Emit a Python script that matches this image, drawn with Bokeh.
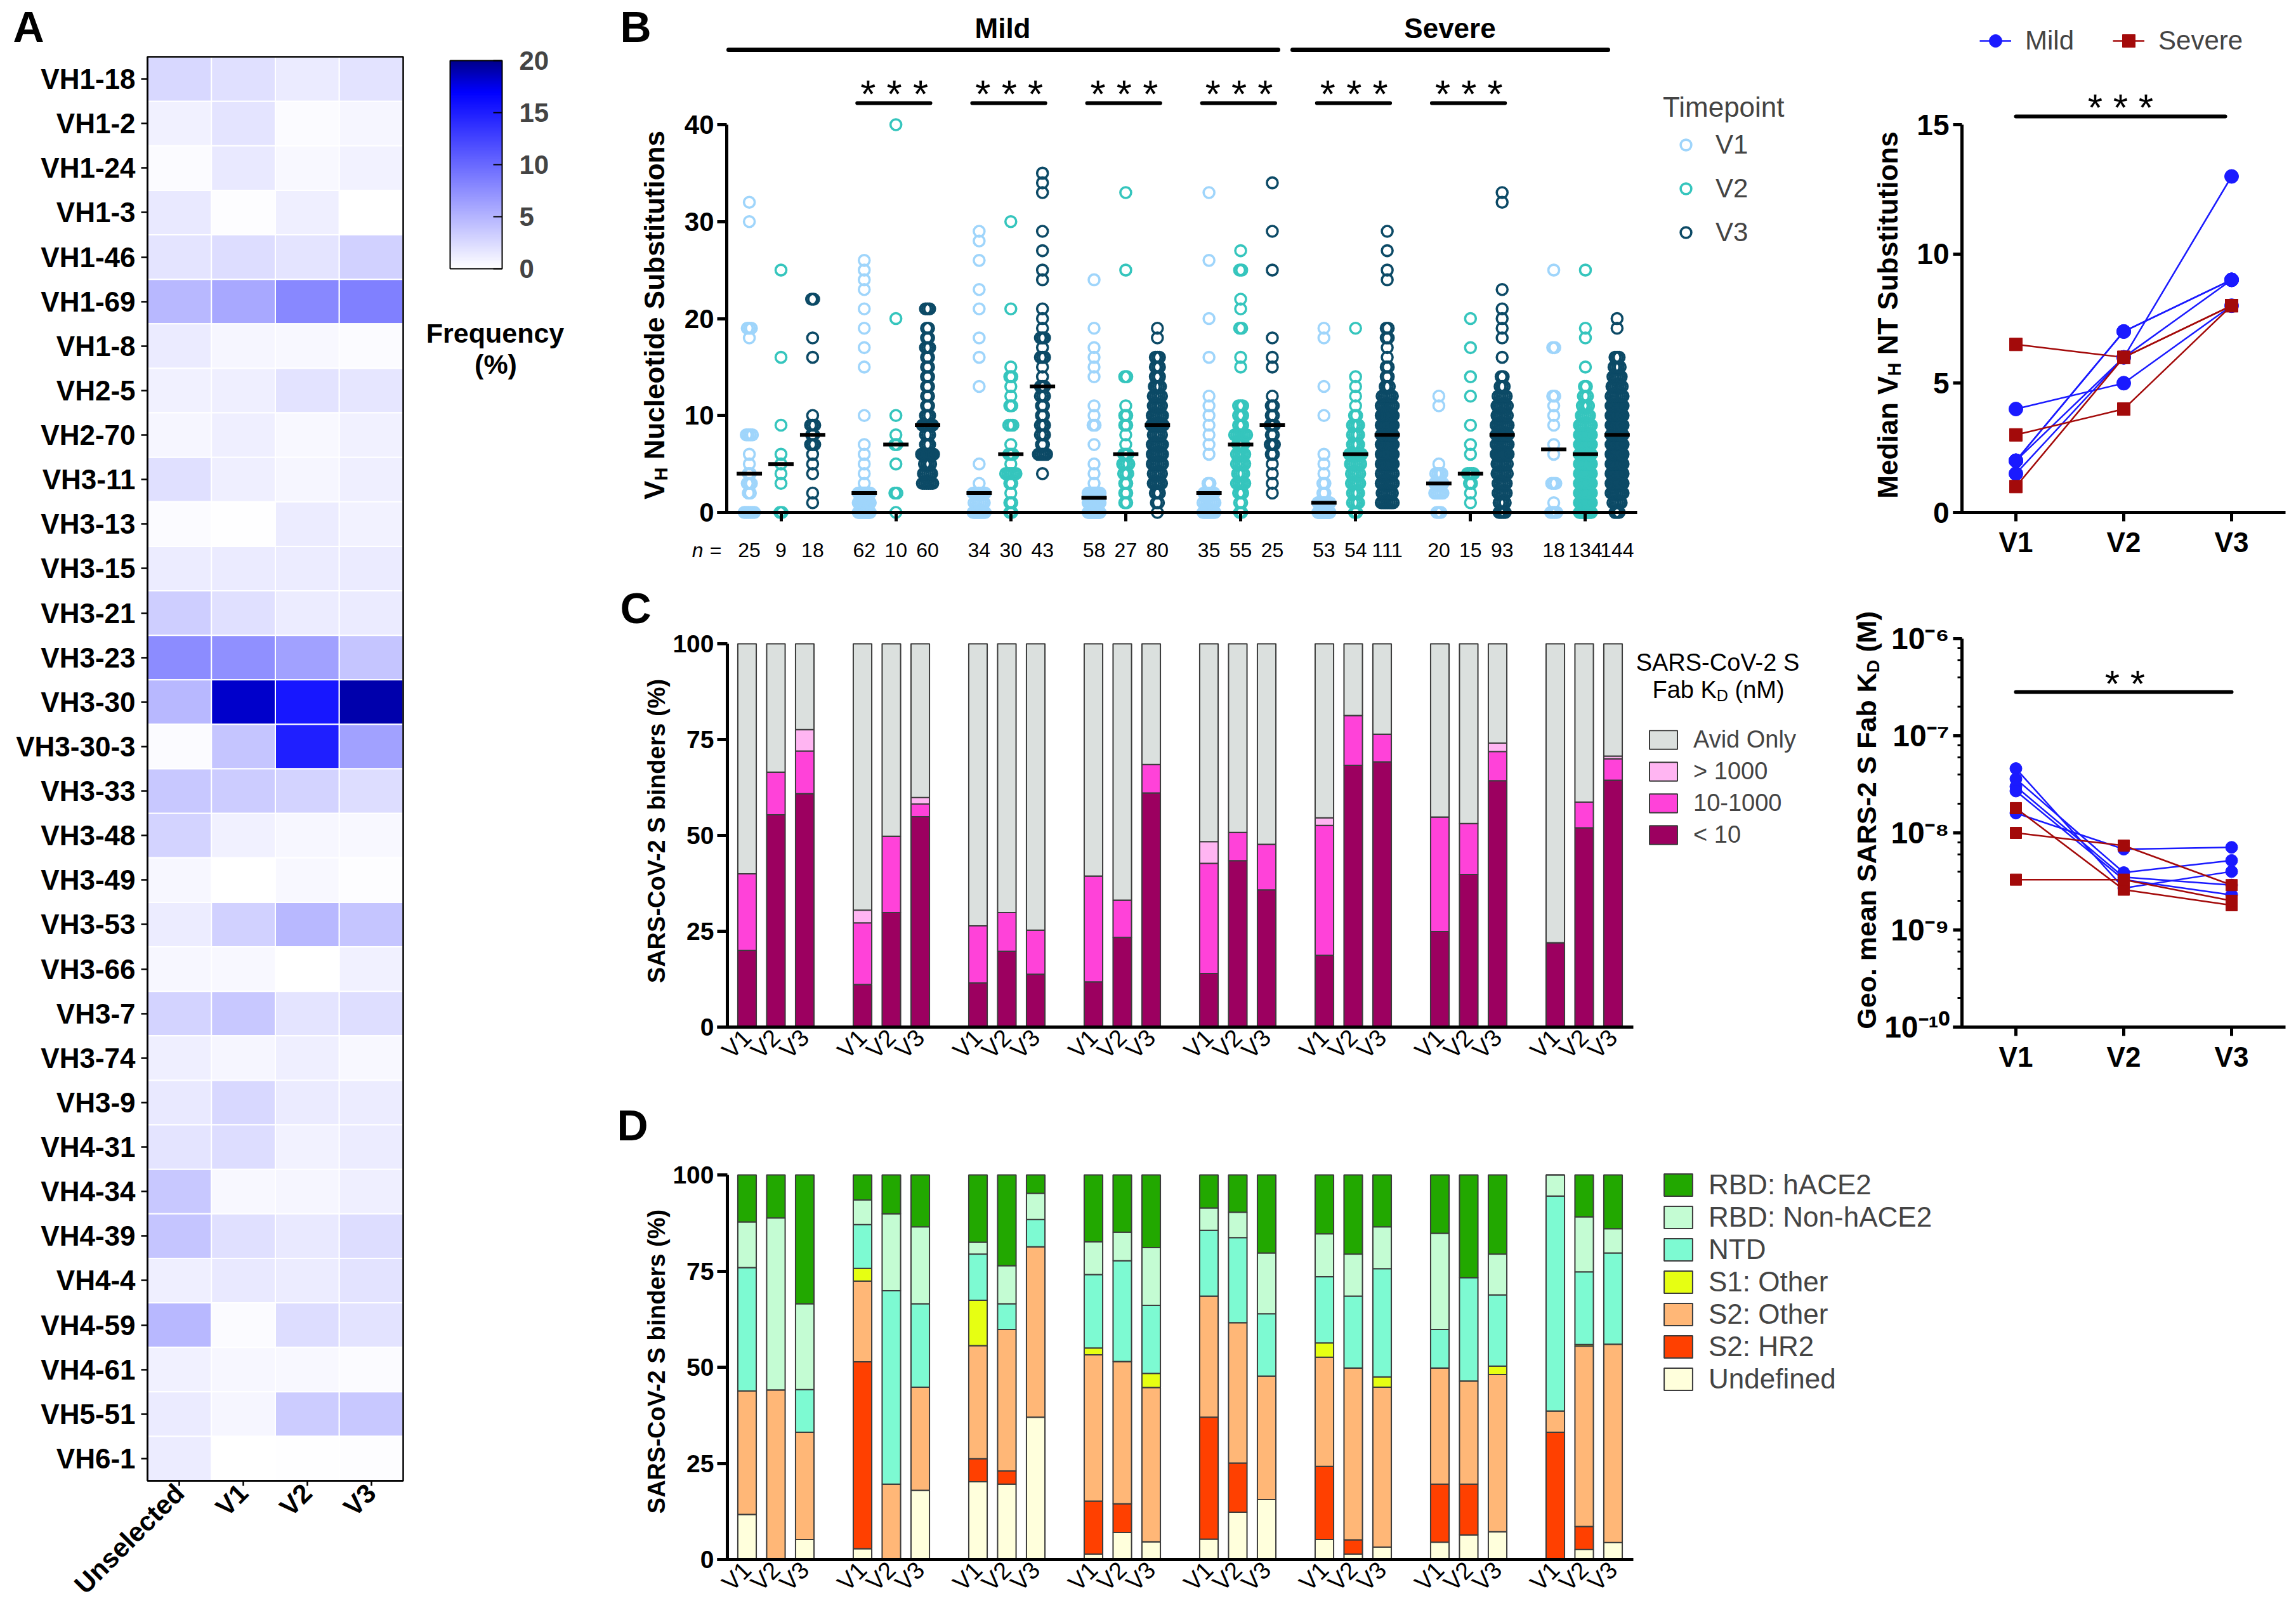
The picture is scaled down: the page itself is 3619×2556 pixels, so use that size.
import math
import numpy as np
from bokeh.plotting import figure
from bokeh.models import (ColumnDataSource, LinearColorMapper, ColorBar, FixedTicker, Label,
                          LabelSet, Legend, LegendItem, Arrow, Range1d, LinearAxis, LogAxis,
                          LogTicker, CustomJSTickFormatter)
from bokeh.layouts import row, column
from bokeh.embed import file_html
from bokeh.resources import INLINE
from bokeh.transform import transform
from bokeh.core.properties import value

FONT = "Liberation Sans"

# ---------------- Panel A data: VH gene usage frequency (%) ----------------
vh_genes = ["VH1-18", "VH1-2", "VH1-24", "VH1-3", "VH1-46", "VH1-69", "VH1-8", "VH2-5", "VH2-70",
            "VH3-11", "VH3-13", "VH3-15", "VH3-21", "VH3-23", "VH3-30", "VH3-30-3", "VH3-33",
            "VH3-48", "VH3-49", "VH3-53", "VH3-66", "VH3-7", "VH3-74", "VH3-9", "VH4-31", "VH4-34",
            "VH4-39", "VH4-4", "VH4-59", "VH4-61", "VH5-51", "VH6-1"]
heat_cols = ["Unselected", "V1", "V2", "V3"]
freq_unselected = [2.6, 1.0, 0.3, 1.5, 1.8, 4.7, 1.4, 1.0, 0.7, 2.1, 0.3, 1.3, 3.3, 7.7, 4.7, 0.3,
                   3.7, 2.9, 0.6, 1.3, 0.6, 2.9, 1.1, 1.5, 1.8, 3.7, 3.9, 1.1, 4.7, 1.0, 1.4, 1.3]
freq_v1 = [2.1, 1.8, 1.5, 0.2, 2.3, 5.8, 0.7, 1.1, 1.1, 1.1, 0.1, 1.4, 2.1, 7.4, 18.3, 3.9,
           3.4, 1.0, 0.0, 3.1, 0.5, 3.7, 0.7, 2.6, 2.3, 0.5, 2.1, 1.5, 0.3, 0.6, 0.7, 0.0]
freq_v2 = [1.4, 0.3, 0.5, 1.1, 1.8, 7.9, 0.5, 1.9, 0.5, 0.7, 1.3, 1.3, 1.3, 6.3, 15.4, 14.9,
           2.9, 0.6, 0.5, 4.7, 0.0, 1.8, 1.1, 1.4, 0.9, 0.7, 1.5, 1.3, 2.3, 0.5, 3.4, 0.1]
freq_v3 = [1.9, 0.7, 0.9, 0.0, 3.1, 8.5, 0.3, 1.7, 1.0, 1.1, 0.9, 1.4, 1.4, 3.9, 19.1, 6.3,
           2.3, 0.5, 0.2, 3.9, 1.0, 2.2, 0.5, 1.3, 1.3, 1.1, 2.3, 1.9, 1.9, 0.3, 3.7, 0.2]
colorbar_ticks = [0, 5, 10, 15, 20]

# ---------------- Panel B data: VH nucleotide substitutions (value, count) ----------------
timepoints = ["V1", "V2", "V3"]
mut_v1 = [
    [(0, 6), (2, 2), (3, 3), (4, 2), (5, 1), (6, 1), (8, 4), (18, 1), (19, 3), (30, 1), (32, 1)],
    [(0, 15), (1, 14), (2, 19), (3, 1), (4, 1), (5, 1), (6, 1), (7, 1), (10, 1), (15, 1), (17, 1),
     (19, 1), (21, 1), (23, 1), (24, 1), (25, 1), (26, 1)],
    [(0, 10), (1, 6), (2, 8), (3, 1), (5, 1), (13, 1), (16, 1), (18, 1), (21, 1), (23, 1), (26, 1),
     (28, 1), (29, 1)],
    [(0, 17), (1, 12), (2, 15), (3, 1), (4, 1), (5, 1), (7, 1), (9, 2), (10, 1), (11, 1), (14, 1),
     (15, 1), (16, 1), (17, 1), (19, 1), (24, 1)],
    [(0, 9), (1, 7), (2, 6), (3, 2), (6, 1), (7, 1), (8, 1), (9, 1), (10, 1), (11, 1), (12, 1),
     (16, 1), (20, 1), (26, 1), (33, 1)],
    [(0, 24), (1, 18), (2, 2), (3, 2), (4, 1), (5, 1), (6, 1), (10, 1), (13, 1), (18, 1), (19, 1)],
    [(0, 3), (2, 5), (3, 5), (4, 4), (5, 1), (11, 1), (12, 1)],
    [(0, 4), (1, 1), (3, 3), (6, 1), (7, 1), (9, 1), (10, 1), (11, 1), (12, 2), (17, 2), (25, 1)],
]
mut_v2 = [
    [(0, 2), (3, 1), (4, 1), (5, 1), (6, 1), (9, 1), (16, 1), (25, 1)],
    [(0, 1), (2, 2), (5, 1), (7, 2), (8, 1), (10, 1), (20, 1), (40, 1)],
    [(0, 2), (1, 2), (2, 1), (3, 2), (4, 6), (5, 1), (6, 3), (7, 1), (9, 3), (11, 2), (12, 1),
     (13, 1), (14, 2), (15, 1), (21, 1), (30, 1)],
    [(1, 2), (2, 2), (3, 2), (4, 3), (5, 4), (6, 3), (7, 1), (8, 1), (9, 2), (10, 2), (11, 1),
     (14, 2), (25, 1), (33, 1)],
    [(0, 2), (1, 2), (2, 3), (3, 5), (4, 4), (5, 5), (6, 5), (7, 4), (8, 7), (9, 3), (10, 3),
     (11, 3), (15, 1), (16, 1), (19, 2), (21, 1), (22, 1), (25, 2), (27, 1)],
    [(0, 2), (1, 4), (2, 4), (3, 5), (4, 5), (5, 6), (6, 9), (7, 4), (8, 4), (9, 4), (10, 2),
     (11, 1), (12, 1), (13, 1), (14, 1), (19, 1)],
    [(1, 1), (2, 1), (3, 2), (4, 4), (6, 1), (7, 1), (9, 1), (12, 1), (14, 1), (17, 1), (20, 1)],
    [(0, 11), (1, 10), (2, 10), (3, 11), (4, 11), (5, 13), (6, 21), (7, 12), (8, 10), (9, 7),
     (10, 5), (11, 4), (12, 3), (13, 2), (15, 1), (18, 1), (19, 1), (25, 1)],
]
mut_v3 = [
    [(1, 1), (2, 1), (4, 1), (5, 1), (6, 1), (7, 3), (8, 2), (9, 3), (10, 1), (16, 1), (18, 1),
     (22, 2)],
    [(3, 6), (4, 5), (5, 4), (6, 8), (7, 3), (8, 3), (9, 6), (10, 3), (11, 2), (12, 2), (13, 2),
     (14, 2), (15, 2), (16, 2), (17, 3), (18, 2), (19, 2), (21, 3)],
    [(4, 1), (6, 5), (7, 2), (8, 3), (9, 3), (10, 2), (11, 2), (12, 3), (13, 3), (14, 1), (15, 1),
     (16, 3), (17, 1), (18, 3), (19, 1), (20, 1), (21, 1), (24, 1), (25, 1), (27, 1), (29, 1),
     (33, 1), (34, 1), (35, 1)],
    [(0, 1), (1, 2), (2, 3), (3, 5), (4, 5), (5, 6), (6, 6), (7, 6), (8, 5), (9, 10), (10, 6),
     (11, 5), (12, 5), (13, 4), (14, 3), (15, 3), (16, 3), (18, 1), (19, 1)],
    [(2, 1), (3, 1), (4, 1), (5, 1), (6, 2), (7, 3), (8, 2), (9, 3), (10, 2), (11, 2), (12, 1),
     (15, 1), (16, 1), (18, 1), (25, 1), (29, 1), (34, 1)],
    [(1, 7), (2, 6), (3, 7), (4, 7), (5, 8), (6, 9), (7, 8), (8, 12), (9, 9), (10, 8), (11, 7),
     (12, 6), (13, 3), (14, 2), (15, 2), (16, 1), (17, 1), (18, 2), (19, 2), (24, 1), (25, 1),
     (27, 1), (29, 1)],
    [(0, 4), (1, 4), (2, 5), (3, 5), (4, 6), (5, 6), (6, 9), (7, 7), (8, 10), (9, 7), (10, 6),
     (11, 6), (12, 5), (13, 3), (14, 2), (16, 1), (18, 1), (19, 1), (20, 1), (21, 1), (23, 1),
     (32, 1), (33, 1)],
    [(0, 3), (1, 5), (2, 7), (3, 9), (4, 10), (5, 11), (6, 13), (7, 12), (8, 14), (9, 12), (10, 11),
     (11, 10), (12, 7), (13, 6), (14, 5), (15, 4), (16, 3), (19, 1), (20, 1)],
]
mild_donors = [0, 1, 2, 3, 4]
severe_donors = [5, 6, 7]
sig_groups_B = [1, 2, 3, 4, 5, 6]

# ---------------- Panel C data: Fab KD categories (%) ----------------
c_lt10 = [20.0, 55.4, 60.9, 11.1, 29.9, 54.9, 11.5, 19.8, 13.8, 11.8, 23.4, 61.1,
          14.0, 43.4, 35.8, 18.7, 68.3, 69.2, 24.9, 39.8, 64.3, 22.0, 52.0, 64.4]
c_mid = [20.0, 11.1, 11.1, 16.1, 19.9, 3.3, 14.9, 10.1, 11.5, 27.6, 9.7, 7.4,
         28.7, 7.4, 11.9, 33.9, 13.0, 7.2, 29.9, 13.3, 7.6, 0.0, 6.7, 5.6]
c_gt1000 = [0.0, 0.0, 5.6, 3.3, 0.0, 1.7, 0.0, 0.0, 0.0, 0.0, 0.0, 0.0,
            5.7, 0.0, 0.0, 2.0, 0.0, 0.0, 0.0, 0.0, 2.2, 0.0, 0.0, 0.7]
c_avid = [60.0, 33.5, 22.4, 69.5, 50.2, 40.1, 73.6, 70.1, 74.7, 60.6, 66.9, 31.5,
          51.6, 49.2, 52.3, 45.4, 18.7, 23.6, 45.2, 46.9, 25.9, 78.0, 41.3, 29.3]
c_labels = ["Avid Only", "> 1000", "10-1000", "< 10"]

# Geo. mean Fab KD (M) per donor
kd_mild = [[4.6e-8, 2.7e-9, 4.0e-9], [3.6e-8, 3.9e-9, 5.2e-9], [3.0e-8, 3.5e-9, 2.9e-9],
           [2.7e-8, 3.3e-9, 2.3e-9], [1.6e-8, 6.8e-9, 7.1e-9]]
kd_severe = [[1.8e-8, 2.6e-9, 1.8e-9], [1.0e-8, 7.4e-9, 2.9e-9], [3.3e-9, 3.3e-9, 2.0e-9]]

# ---------------- Panel D data: epitope classes (%) ----------------
d_undef = [11.7, 0.0, 5.2, 2.8, 0.0, 18.0, 20.2, 19.6, 37.0, 1.4, 7.0, 4.6,
           5.3, 12.3, 15.6, 5.2, 1.4, 3.2, 4.5, 6.4, 7.2, 0.0, 2.6, 4.4]
d_hr2 = [0.0, 0.0, 0.0, 48.6, 0.0, 0.0, 6.0, 3.4, 0.0, 13.8, 7.5, 0.0,
         31.7, 12.8, 0.0, 19.0, 3.7, 0.0, 15.1, 13.2, 0.0, 33.1, 6.0, 0.0]
d_s2o = [32.1, 44.1, 27.9, 21.0, 19.6, 26.8, 29.4, 36.8, 44.3, 38.0, 37.0, 40.1,
         31.5, 36.5, 32.1, 28.4, 44.7, 41.6, 30.2, 26.8, 40.9, 5.5, 46.9, 51.6]
d_s1o = [0.0, 0.0, 0.0, 3.3, 0.0, 0.0, 11.8, 0.0, 0.0, 1.8, 0.0, 3.7,
         0.0, 0.0, 0.0, 3.7, 0.0, 2.7, 0.0, 0.0, 2.2, 0.0, 0.4, 0.0]
d_ntd = [32.1, 0.0, 11.1, 11.4, 50.3, 21.7, 12.0, 6.7, 7.1, 19.1, 26.2, 17.7,
         17.1, 22.1, 16.2, 17.2, 18.7, 28.1, 10.0, 26.9, 18.5, 55.9, 18.9, 23.7]
d_rbdn = [11.9, 44.7, 22.3, 6.4, 20.0, 20.0, 3.1, 9.9, 6.8, 8.5, 7.4, 15.0,
          5.8, 6.6, 15.8, 11.2, 10.9, 10.9, 25.0, 0.0, 10.6, 5.5, 14.3, 6.3]
d_hace2 = [12.2, 11.2, 33.5, 6.5, 10.1, 13.5, 17.5, 23.6, 4.8, 17.4, 14.9, 18.9,
           8.6, 9.7, 20.3, 15.3, 20.6, 13.5, 15.2, 26.7, 20.6, 0.0, 10.9, 14.0]
d_labels = ["RBD: hACE2", "RBD: Non-hACE2", "NTD", "S1: Other", "S2: Other", "S2: HR2", "Undefined"]

# ---------------- styling ----------------
TP_COLORS = ["#9fd5fb", "#35c5bd", "#0c4a66"]
BLUE = "#1a1aff"
RED = "#a30a0a"
C_COLORS = ["#9c0060", "#ff42d9", "#ffb5f2", "#dbe0de"]      # <10, 10-1000, >1000, avid
D_COLORS = ["#ffffdc", "#ff4000", "#ffb777", "#e6ff12", "#7dfad2", "#c4fcd3", "#22a800"]
KSHIFT = 0.25   # empirical baseline correction of rendered text (fraction of font size)

W_BOLD = {' ': 278, '(': 333, ')': 333, '%': 889, '-': 333, '.': 278, ':': 333,
          'A': 722, 'B': 722, 'C': 722, 'D': 722, 'E': 667, 'F': 611, 'G': 778, 'H': 722, 'K': 722,
          'M': 833, 'N': 722, 'O': 778, 'R': 722, 'S': 667, 'T': 611, 'V': 667,
          'a': 556, 'b': 611, 'c': 556, 'd': 611, 'e': 556, 'i': 278, 'l': 278, 'm': 889, 'n': 611,
          'o': 611, 'r': 389, 's': 556, 't': 333, 'u': 611}
W_REG = {' ': 278, '(': 333, ')': 333, '%': 889, '-': 333, '.': 278, ':': 278,
         'A': 667, 'B': 667, 'C': 722, 'D': 722, 'F': 611, 'K': 667, 'M': 833, 'R': 722, 'S': 667,
         'V': 667, 'a': 556, 'b': 556, 'n': 556, 'o': 556}


def tw(s, size, bold):
    tbl = W_BOLD if bold else W_REG
    return sum(tbl.get(ch, 556) for ch in s) * size / 1000.0


class Box:
    """page-pixel box of one figure (frame == whole figure)"""
    def __init__(self, x0, x1, y0, y1):
        self.x0, self.x1, self.y0, self.y1 = x0, x1, y0, y1
        self.w, self.h = x1 - x0, y1 - y0

    def sx(self, X):
        return X - self.x0

    def sy(self, Y):
        return self.y1 - Y


def panel_fig(box, x_range, y_range, **kw):
    p = figure(width=box.w, height=box.h, x_range=x_range, y_range=y_range,
               output_backend="svg", toolbar_location=None, x_axis_location=None,
               y_axis_location=None, min_border=0, **kw)
    p.title.visible = False
    p.outline_line_color = None
    p.grid.visible = False
    p.background_fill_color = "white"
    p.border_fill_color = "white"
    return p


def add_axis(p, place, loc, bounds, ticker, size, bold=True, line_w=5, tick_out=15, standoff=6,
             log=False, **extra):
    cls = LogAxis if log else LinearAxis
    ax = cls(fixed_location=loc, bounds=bounds, ticker=ticker, **extra)
    ax.axis_line_width = line_w
    ax.axis_line_color = "black"
    ax.major_tick_line_width = line_w
    ax.major_tick_line_color = "black"
    ax.major_tick_out = tick_out
    ax.major_tick_in = 0
    ax.minor_tick_line_color = None
    ax.major_label_text_font = FONT
    ax.major_label_text_font_size = f"{size}px"
    ax.major_label_text_font_style = "bold" if bold else "normal"
    ax.major_label_text_color = "black"
    ax.major_label_standoff = standoff
    p.add_layout(ax, place)
    return ax


def lab(p, box, X, Y, text, size, bold=False, italic=False, align="left", baseline="alphabetic",
        angle=0.0):
    style = "normal"
    if bold and italic:
        style = "bold italic"
    elif bold:
        style = "bold"
    elif italic:
        style = "italic"
    if baseline == "alphabetic":
        if angle == 0.0:
            Y -= KSHIFT * size
        else:
            X -= KSHIFT * size
    p.add_layout(Label(x=box.sx(X), y=box.sy(Y), x_units="screen", y_units="screen", text=text,
                       text_font=FONT, text_font_size=f"{size}px", text_font_style=style,
                       text_align=align, text_baseline=baseline, angle=angle, text_color="black"))


def vlabel(p, box, parts, X, Yc, size, bold=True):
    """bottom-to-top label with subscripts; X = baseline position, Yc = centre (page px)"""
    sub = 0.66 * size
    total = sum(tw(t, sub if s else size, bold) for t, s in parts)
    Y = Yc + total / 2
    for t, s in parts:
        fs = sub if s else size
        lead = len(t) - len(t.lstrip())
        Y -= tw(" " * lead, fs, bold)
        t2 = t.lstrip()
        lab(p, box, X + (0.15 * size if s else 0), Y, t2, round(fs, 1), bold=bold,
            angle=math.pi / 2)
        Y -= tw(t2, fs, bold)


def hlabel(p, box, parts, Xc, Y, size, bold=False):
    sub = 0.66 * size
    total = sum(tw(t, sub if s else size, bold) for t, s in parts)
    X = Xc - total / 2
    for t, s in parts:
        fs = sub if s else size
        lead = len(t) - len(t.lstrip())
        X += tw(" " * lead, fs, bold)
        t2 = t.lstrip()
        lab(p, box, X, Y + (0.15 * size if s else 0), t2, round(fs, 1), bold=bold)
        X += tw(t2, fs, bold)


def bracket(p, x0, x1, y, w=6):
    p.add_layout(Arrow(start=None, end=None, x_start=x0, y_start=y, x_end=x1, y_end=y,
                       line_width=w, line_color="black", line_cap="round"))


def expand(pairs):
    out = []
    for v, c in pairs:
        out += [v] * c
    return out


# =========================== Panel A ===========================
boxA = Box(8, 948, 8, 2548)
CW = (643 - 240) / 4.0          # page px per heat-map column
RH = (2341 - 97) / 32.0         # page px per heat-map row
pA = panel_fig(boxA,
               Range1d((8 - 240) / CW - 0.5, (948 - 240) / CW - 0.5),
               Range1d(31.5 - (2548 - 97) / RH, 31.5 - (8 - 97) / RH))
pal = []
for i in range(256):
    vv = 20.0 * i / 255
    if vv <= 17:
        cc = int(round(255 * (1 - vv / 17)))
        pal.append("#%02x%02x%02x" % (cc, cc, 255))
    else:
        bb = int(round(255 - (vv - 17) / 3 * (255 - 139)))
        pal.append("#%02x%02x%02x" % (0, 0, bb))
mapper = LinearColorMapper(palette=pal, low=0, high=20)
nrow, ncol = len(vh_genes), len(heat_cols)
hx, hy, hv = [], [], []
for ci, vals in enumerate([freq_unselected, freq_v1, freq_v2, freq_v3]):
    for r, v in enumerate(vals):
        hx.append(ci)
        hy.append(nrow - 1 - r)
        hv.append(v)
pA.rect(x="x", y="y", width=1, height=1, source=ColumnDataSource(dict(x=hx, y=hy, v=hv)),
        fill_color=transform("v", mapper), line_color="white", line_width=2)
pA.rect(x=(ncol - 1) / 2, y=(nrow - 1) / 2, width=ncol, height=nrow, fill_color=None,
        line_color="black", line_width=2.5)
add_axis(pA, "left", -0.5, (-0.5, nrow - 0.5), FixedTicker(ticks=list(range(nrow))), 44,
         line_w=2.5, tick_out=10, standoff=9,
         major_label_overrides={nrow - 1 - r: g for r, g in enumerate(vh_genes)})
axAx = add_axis(pA, "below", -0.5, (-0.5, ncol - 0.5), FixedTicker(ticks=list(range(ncol))), 42,
                line_w=2.5, tick_out=8, standoff=4,
                major_label_overrides={i: c for i, c in enumerate(heat_cols)})
axAx.major_label_orientation = math.pi / 4
cb = ColorBar(color_mapper=mapper, location=(boxA.sx(717), boxA.sy(431)), width=82, height=328,
              padding=0, margin=0, ticker=FixedTicker(ticks=colorbar_ticks),
              major_label_text_font=FONT, major_label_text_font_size="42px",
              major_label_text_font_style="bold", major_tick_line_color="black",
              major_tick_line_width=2, major_tick_in=14, major_tick_out=0,
              bar_line_color="black", bar_line_width=2, label_standoff=27,
              background_fill_alpha=0)
pA.add_layout(cb)
lab(pA, boxA, 788, 543, "Frequency", 43, bold=True, align="center")
lab(pA, boxA, 789, 592, "(%)", 43, bold=True, align="center")
lab(pA, boxA, 28, 66, "A", 68, bold=True)

# =========================== Panel B ===========================
boxB = Box(948, 2880, 8, 900)
GSTEP = 3.63
BX0, BXU = 1188.6, 49.9          # page x of first column, px per unit
BY0, BYU = 815.0, 15.275         # page y of 0, px per substitution
pB = panel_fig(boxB, Range1d((948 - BX0) / BXU, (2880 - BX0) / BXU),
               Range1d((BY0 - 900) / BYU, (BY0 - 8) / BYU))
rends = []
med_x0, med_x1, med_y = [], [], []
n_x, n_t = [], []
for j, (tp, data) in enumerate(zip(timepoints, [mut_v1, mut_v2, mut_v3])):
    xs, ys = [], []
    for g, pairs in enumerate(data):
        x0 = g * GSTEP + j
        for v, c in pairs:
            step = 0.06 if c < 2 else min(0.065, 0.38 / (c - 1))
            for i in range(c):
                xs.append(x0 + (i - (c - 1) / 2) * step)
                ys.append(v)
        vals = expand(pairs)
        med_x0.append(x0 - 0.4)
        med_x1.append(x0 + 0.4)
        med_y.append(float(np.median(vals)))
        n_x.append(x0)
        n_t.append(str(len(vals)))
    r = pB.scatter(x="x", y="y", source=ColumnDataSource(dict(x=xs, y=ys)), marker="circle",
                   size=17, fill_alpha=0, line_color=TP_COLORS[j], line_width=3.6)
    rends.append(r)
pB.segment(x0=med_x0, y0=med_y, x1=med_x1, y1=med_y, line_width=6, line_color="black")
bx_axis = (1153 - BX0) / BXU
bx_lo, bx_hi = (1138 - BX0) / BXU, (2588 - BX0) / BXU
add_axis(pB, "left", bx_axis, (0, 40), FixedTicker(ticks=[0, 10, 20, 30, 40]), 42, tick_out=15,
         standoff=5)
axBx = add_axis(pB, "below", 0, (bx_lo, bx_hi),
                FixedTicker(ticks=[], minor_ticks=[g * GSTEP + 1 for g in range(8)]), 32)
axBx.minor_tick_line_color = "black"
axBx.minor_tick_line_width = 5
axBx.minor_tick_out = 14
axBx.minor_tick_in = 0
pB.add_layout(LabelSet(x="x", y="y", text="t",
                       source=ColumnDataSource(dict(x=n_x, y=[(BY0 - 874) / BYU] * len(n_x), t=n_t)),
                       text_align="center", text_baseline="middle", text_font=value(FONT),
                       text_font_size=value("32px"), text_color="black"))
lab(pB, boxB, 1116, 874, "n", 32, italic=True, align="right", baseline="middle")
lab(pB, boxB, 1145, 874, "=", 32, align="right", baseline="middle")
yb = (BY0 - 86) / BYU
bracket(pB, (1156 - BX0) / BXU, (2022 - BX0) / BXU, yb, w=7)
bracket(pB, (2045 - BX0) / BXU, (2542 - BX0) / BXU, yb, w=7)
lab(pB, boxB, 1588, 63, "Mild", 44, bold=True, align="center")
lab(pB, boxB, 2293, 63, "Severe", 44, bold=True, align="center")
for g in sig_groups_B:
    bracket(pB, g * GSTEP - 0.22, g * GSTEP + 2.09, (BY0 - 170) / BYU)
    lab(pB, boxB, BX0 + BXU * (g * GSTEP + 0.95), 170, "* * *", 62, align="center")
legB = Legend(items=[LegendItem(label=tp, renderers=[r]) for tp, r in zip(timepoints, rends)],
              location=(boxB.sx(2629), boxB.sy(398)), title="Timepoint", orientation="vertical",
              glyph_width=72, glyph_height=42, label_standoff=11, spacing=21, padding=0, margin=0,
              border_line_color=None, background_fill_alpha=0, label_text_font=FONT,
              label_text_font_size="42px", title_text_font=FONT, title_text_font_size="44px",
              title_text_font_style="normal", title_standoff=10)
pB.add_layout(legB)
vlabel(pB, boxB, [("V", False), ("H", True), (" Nucleotide Substitutions", False)], 1050, 504, 44)
lab(pB, boxB, 985, 66, "B", 68, bold=True)

# =========================== Panel B right ===========================
boxBR = Box(2880, 3611, 8, 900)
RX0, RXU = 3185.0, 170.0
RYU = 40.73
pBR = panel_fig(boxBR, Range1d((2880 - RX0) / RXU, (3611 - RX0) / RXU),
                Range1d((BY0 - 900) / RYU, (BY0 - 8) / RYU))
med_tab = np.array(med_y).reshape(3, 8).T   # [group][timepoint]
tx = [0, 1, 2]
mild_ys = [list(med_tab[g]) for g in mild_donors]
sev_ys = [list(med_tab[g]) for g in severe_donors]
ml = pBR.multi_line(xs=[tx] * len(mild_ys), ys=mild_ys, line_color=BLUE, line_width=2.5)
sl = pBR.multi_line(xs=[tx] * len(sev_ys), ys=sev_ys, line_color=RED, line_width=2.5)
mp = pBR.scatter(x=tx * len(mild_ys), y=sum(mild_ys, []), marker="circle", size=22,
                 fill_color=BLUE, line_color=BLUE)
sp = pBR.scatter(x=tx * len(sev_ys), y=sum(sev_ys, []), marker="square", size=20,
                 fill_color=RED, line_color=RED)
r_axis = (3100 - RX0) / RXU
add_axis(pBR, "left", r_axis, (0, 15), FixedTicker(ticks=[0, 5, 10, 15]), 46, tick_out=14,
         standoff=6)
add_axis(pBR, "below", 0, ((3086 - RX0) / RXU, (3610 - RX0) / RXU), FixedTicker(ticks=tx), 44,
         tick_out=14, standoff=8, major_label_overrides={0: "V1", 1: "V2", 2: "V3"})
bracket(pBR, 0, (3515 - RX0) / RXU, (BY0 - 191) / RYU)
lab(pBR, boxBR, 3350, 192, "* * *", 60, align="center")
legBR = Legend(items=[LegendItem(label="Mild", renderers=[ml, mp]),
                      LegendItem(label="Severe", renderers=[sl, sp])],
               location=(boxBR.sx(3128), boxBR.sy(99)), orientation="horizontal",
               glyph_width=50, glyph_height=54, label_standoff=22, spacing=61, padding=0,
               margin=0, border_line_color=None, background_fill_alpha=0, label_text_font=FONT,
               label_text_font_size="42px")
pBR.add_layout(legBR)
vlabel(pBR, boxBR, [("Median V", False), ("H", True), (" NT Substitutions", False)], 2994, 504, 44)

# =========================== Panel C ===========================
bar_x = [g * 4 + j for g in range(8) for j in range(3)]
bar_lab = {x: timepoints[i % 3] for i, x in enumerate(bar_x)}
CX0, CXU = 1185.0, 45.5
boxC = Box(948, 2880, 900, 1700)
CY0, CYU = 1626.0, 6.04
pC = panel_fig(boxC, Range1d((948 - CX0) / CXU, (2880 - CX0) / CXU),
               Range1d((CY0 - 1700) / CYU, (CY0 - 900) / CYU))
srcC = ColumnDataSource(dict(x=bar_x, lt10=c_lt10, mid=c_mid, gt1000=c_gt1000, avid=c_avid))
rc = pC.vbar_stack(["lt10", "mid", "gt1000", "avid"], x="x", width=0.64, color=C_COLORS,
                   source=srcC, line_color="#3c3c3c", line_width=2)
cx_axis = (1154 - CX0) / CXU
cx_lo, cx_hi = (1138 - CX0) / CXU, (2582 - CX0) / CXU
add_axis(pC, "left", cx_axis, (0, 100), FixedTicker(ticks=[0, 25, 50, 75, 100]), 39, tick_out=16,
         standoff=5)
axCx = add_axis(pC, "below", 0, (cx_lo, cx_hi), FixedTicker(ticks=bar_x), 38, bold=False,
                tick_out=0, standoff=10, major_label_overrides=bar_lab)
axCx.major_label_orientation = math.pi / 4
legC = Legend(items=[LegendItem(label=c_labels[0], renderers=[rc[3]]),
                     LegendItem(label=c_labels[1], renderers=[rc[2]]),
                     LegendItem(label=c_labels[2], renderers=[rc[1]]),
                     LegendItem(label=c_labels[3], renderers=[rc[0]])],
              location=(boxC.sx(2602), boxC.sy(1345)), orientation="vertical",
              glyph_width=55, glyph_height=37, label_standoff=20, spacing=7, padding=0, margin=0,
              border_line_color=None, background_fill_alpha=0, label_text_font=FONT,
              label_text_font_size="38px")
pC.add_layout(legC)
hlabel(pC, boxC, [("SARS-CoV-2 S", False)], 2716, 1061, 38)
hlabel(pC, boxC, [("Fab K", False), ("D", True), (" (nM)", False)], 2716, 1104, 38)
vlabel(pC, boxC, [("SARS-CoV-2 S binders (%)", False)], 1052, 1316, 38)
lab(pC, boxC, 985, 982, "C", 68, bold=True)

# =========================== Panel C right ===========================
boxCR = Box(2880, 3611, 900, 1700)
KD_DEC = 153.0                  # page px per decade
pCR = panel_fig(boxCR, Range1d((2880 - RX0) / RXU, (3611 - RX0) / RXU),
                Range1d(10 ** (-10 - (1700 - CY0) / KD_DEC), 10 ** (-10 + (CY0 - 900) / KD_DEC)),
                y_axis_type="log")
pCR.multi_line(xs=[tx] * len(kd_mild), ys=kd_mild, line_color=BLUE, line_width=2.5)
pCR.multi_line(xs=[tx] * len(kd_severe), ys=kd_severe, line_color=RED, line_width=2.5)
pCR.scatter(x=tx * len(kd_mild), y=sum(kd_mild, []), marker="circle", size=19,
            fill_color=BLUE, line_color=BLUE)
pCR.scatter(x=tx * len(kd_severe), y=sum(kd_severe, []), marker="square", size=18,
            fill_color=RED, line_color=RED)
fmt = CustomJSTickFormatter(code="""
const e = Math.round(Math.log10(tick));
const sup = {'-': '\\u207B', '0': '\\u2070', '1': '\\u00B9', '2': '\\u00B2', '3': '\\u00B3',
             '4': '\\u2074', '5': '\\u2075', '6': '\\u2076', '7': '\\u2077', '8': '\\u2078', '9': '\\u2079'};
return '10' + String(e).split('').map(c => sup[c]).join('');
""")
axCRy = add_axis(pCR, "left", r_axis, (1e-10, 1e-6), LogTicker(desired_num_ticks=5), 48,
                 tick_out=14, standoff=6, log=True, formatter=fmt)
axCRy.minor_tick_line_color = "black"
axCRy.minor_tick_line_width = 3
axCRy.minor_tick_out = 7
axCRy.minor_tick_in = 0
add_axis(pCR, "below", 1e-10, ((3086 - RX0) / RXU, (3610 - RX0) / RXU), FixedTicker(ticks=tx), 44,
         tick_out=14, standoff=8, major_label_overrides={0: "V1", 1: "V2", 2: "V3"})
bracket(pCR, 0, 2, 10 ** (-10 + (CY0 - 1098) / KD_DEC))
lab(pCR, boxCR, 3357, 1100, "* *", 60, align="center")
vlabel(pCR, boxCR, [("Geo. mean SARS-2 S Fab K", False), ("D", True), (" (M)", False)],
       2960, 1300, 43)

# =========================== Panel D ===========================
boxD = Box(948, 3611, 1700, 2548)
DY0, DYU = 2465.0, 6.06
pD = panel_fig(boxD, Range1d((948 - CX0) / CXU, (3611 - CX0) / CXU),
               Range1d((DY0 - 2548) / DYU, (DY0 - 1700) / DYU))
srcD = ColumnDataSource(dict(x=bar_x, undef=d_undef, hr2=d_hr2, s2o=d_s2o, s1o=d_s1o, ntd=d_ntd,
                             rbdn=d_rbdn, hace2=d_hace2))
rd = pD.vbar_stack(["undef", "hr2", "s2o", "s1o", "ntd", "rbdn", "hace2"], x="x", width=0.64,
                   color=D_COLORS, source=srcD, line_color="#3c3c3c", line_width=2)
add_axis(pD, "left", cx_axis, (0, 100), FixedTicker(ticks=[0, 25, 50, 75, 100]), 39, tick_out=16,
         standoff=5)
axDx = add_axis(pD, "below", 0, (cx_lo, cx_hi), FixedTicker(ticks=bar_x), 38, bold=False,
                tick_out=0, standoff=10, major_label_overrides=bar_lab)
axDx.major_label_orientation = math.pi / 4
legD = Legend(items=[LegendItem(label=lbl, renderers=[rd[6 - i]]) for i, lbl in enumerate(d_labels)],
              location=(boxD.sx(2625), boxD.sy(2206)), orientation="vertical",
              glyph_width=56, glyph_height=44, label_standoff=20, spacing=1, padding=0, margin=0,
              border_line_color=None, background_fill_alpha=0, label_text_font=FONT,
              label_text_font_size="44px")
pD.add_layout(legD)
vlabel(pD, boxD, [("SARS-CoV-2 S binders (%)", False)], 1052, 2152, 38)
lab(pD, boxD, 980, 1797, "D", 68, bold=True)

layout = row(pA, column(row(pB, pBR), row(pC, pCR), pD))
open("out.html", "w", encoding="utf-8").write(file_html(layout, INLINE))
